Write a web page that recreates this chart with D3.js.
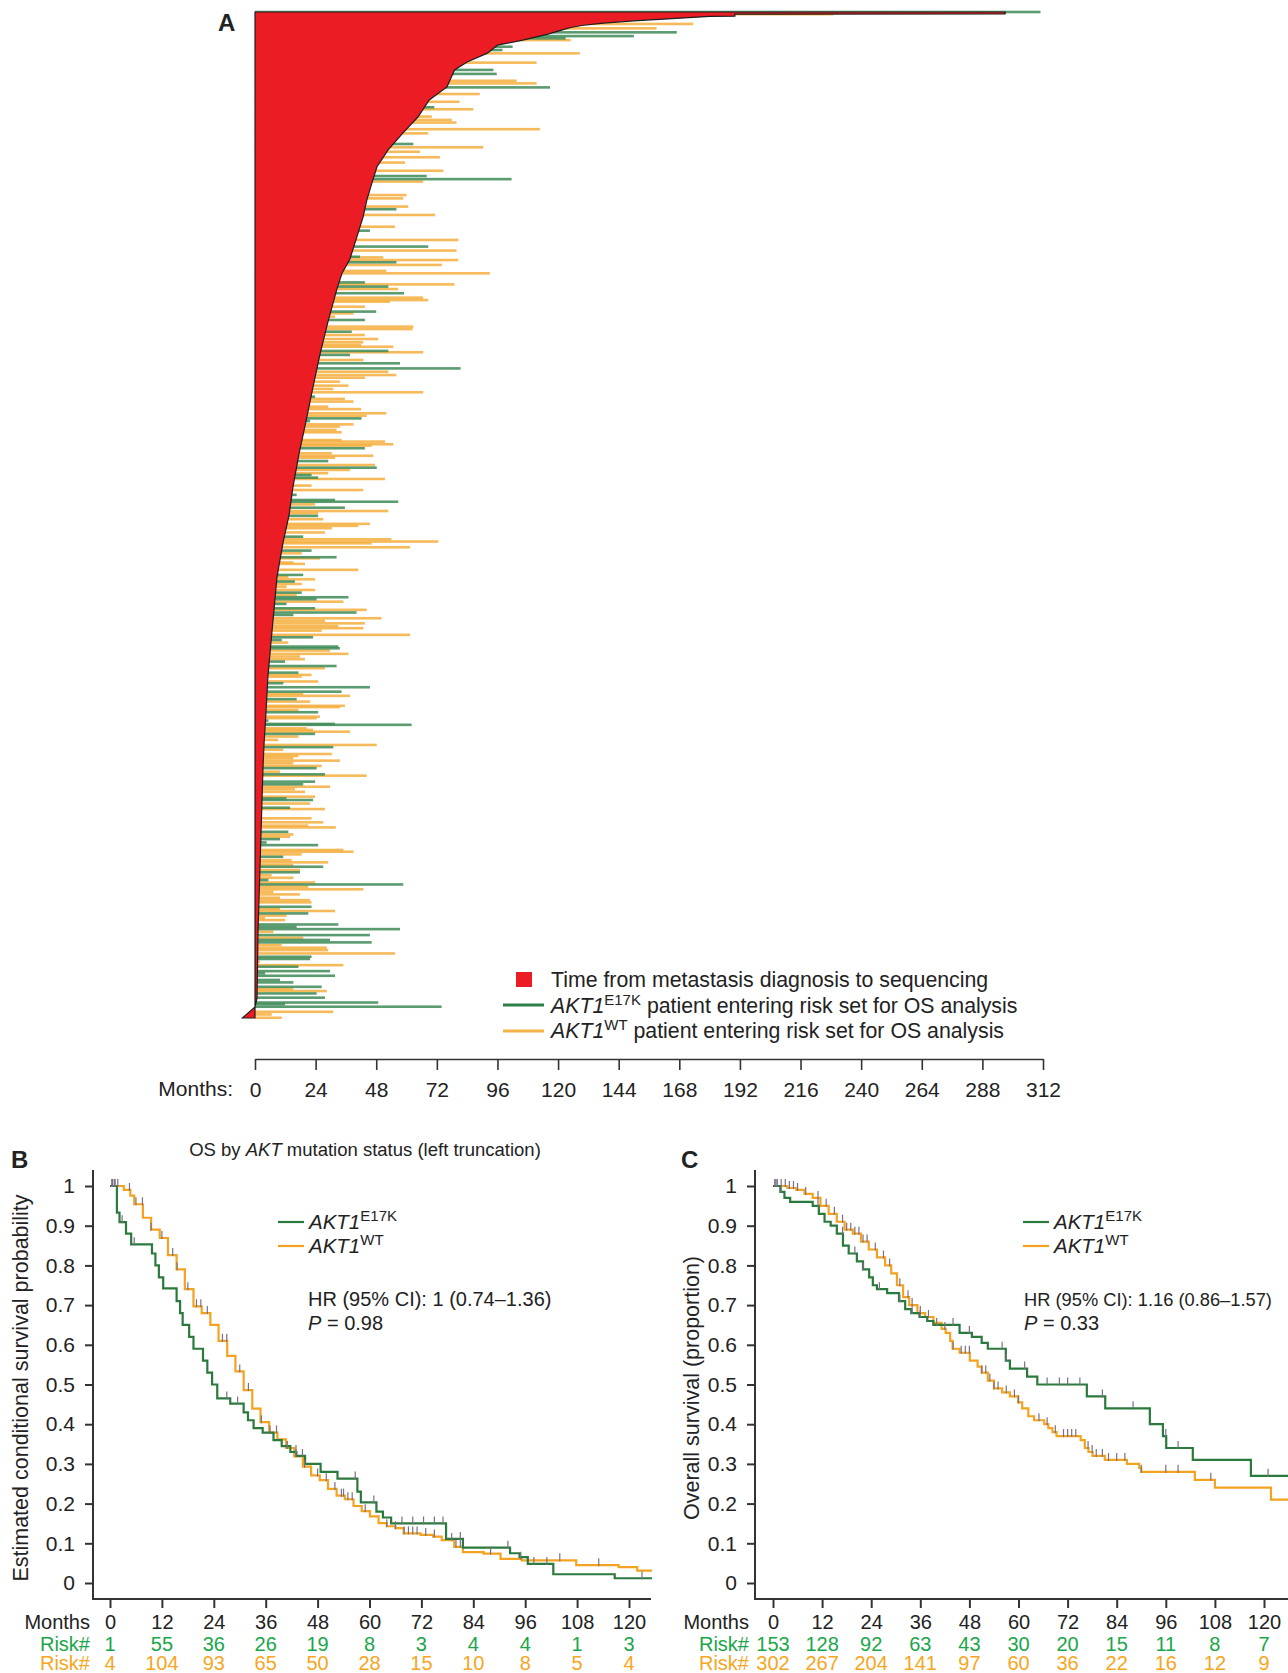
<!DOCTYPE html>
<html>
<head>
<meta charset="utf-8">
<script src="https://cdn.jsdelivr.net/npm/d3@7"></script>
<style>
  body { margin: 0; background: #fff; }
  svg { display: block; }
  text { font-family: 'Liberation Sans', Arial, sans-serif; fill: #222; }
</style>
</head>
<body>
<svg id="chart" width="1288" height="1673"></svg>
<script>
// ---------- panel A data ----------
var monthTicksA = [0, 24, 48, 72, 96, 120, 144, 168, 192, 216, 240, 264, 288, 312];

// [patient row, months from metastasis to sequencing] along the red edge
var seqEdge = [[0,297],[0.9,297],[1,190],[1.9,190],[2,180],[3,165],[4,150],[5,138],[6,130],[7,125],[8,122],[10,116],
  [12.7,106],[15,96],[18.6,92],[22.6,84],[26.2,79],[33.9,76],[39.8,69],[47.5,64.5],[54.7,58.6],[62.4,52.7],[70,48.3],
  [77.3,46.3],[85,44.3],[92.7,42.8],[100,40.8],[112,37.5],[118,34.5],[125,32.5],[140,28.9],[155,25.7],[170,22.9],
  [185,20.2],[200,17.4],[215,15],[227.5,13.5],[240,11.1],[255.6,8.7],[270.5,7.5],[285.4,6.3],[300.8,5.1],[315.7,4.4],
  [330.6,3.6],[340.6,3.2],[355.5,2.8],[385.8,2.0],[416,1.2],[446,0.8],[450,0],[455,-5]];

// [patient row, end of follow-up in months]
var e17kBars = [[0,311],[9.2,167],[10.9,150],[11.9,123],[15.7,102],[17.2,98],[26.2,94.4],[28,95.7],[34.1,116.8],[43.1,71],
  [59.7,62.7],[74.2,68],[75.6,101.6],[89.2,56],[98.9,45.5],[106.1,68.6],
  [110.7,41.6],[113.2,56],[122.3,43.5],[124.2,52.8],[127.2,59],[135.5,48],[139.3,43.5],[144.6,38.3],[153.3,52.8],
  [155.1,37.6],[158.9,57.4],[161.2,81.4],[174,23.8],[183.8,42.2],[185,21.8],[197.3,43.5],[203.1,29],[206.1,48.2],
  [209.4,22.4],[210.6,25],[218.4,16.5],[220.7,31.7],[221.5,56.7],[224.2,35.6],
  [227.9,25],[237.3,19.1],[243.6,22.4],[246.6,32.3],[254.6,19.1],[257.6,15.8],[262.6,18.5],[264.7,37],[265.6,24.4],
  [267.7,12.5],[269.7,23.8],[271.6,40.2],[272.7,15.2],[282.8,23],[284,10.6],[287,33],[287.8,33.6],[293.8,11.9],
  [295.8,32.3],[298.8,17.2],[303.6,11.2],[305.4,45.5],[307.4,34.3],[310.8,16.5],[316.7,25],[320.5,5.3],[322,31.7],
  [322.4,62],[326.5,23.8],[332.5,31],[342,24.4],
  [344.8,27.7],[348.1,23.8],[349.3,19.1],[355.7,12.5],[356.4,23],[359.9,13.9],[370.8,13.2],[374.1,9.9],[375.6,4.6],
  [376.8,25],[382.1,11.2],[386.6,27],[389.1,17.8],[392.6,5.3],[394.6,58.7],[404.7,22.4],[407.7,21.1],[412.7,33],
  [413.7,16.5],[414.8,57.4],[417.5,45.5],[419.7,29.7],[420.8,46.2],[427.3,22.4],[428.3,21.8],[431.8,17.2],[433.8,29.7],
  [434.8,4],[435.9,31.7],[437.8,9.9],[438.9,15.2],[440.9,26.4],[443.9,24.4],[445.8,27.7],[448,48.8],[448.8,11.9],[449.9,73.9]];

var wtBars = [[1,229],[5.4,173.5],[7.4,159],[12.7,125],[18.7,128.6],[22.9,111.5],[31.1,103.6],[32.3,111.5],[37.1,89],
  [40.6,81],[44,86.4],[47.3,70],[48.8,77.9],[50,79.8],[53,112.8],[54.9,68.6],[61.2,90.4],[63.2,65.3],[65.7,73.2],
  [68.1,59.4],[71.8,74.6],[76.7,66.6],[82.8,60],[84.3,58.7],[88,60.7],[91.8,71.3],[97.1,55.4],[103.1,80.5],[107.9,79.8],
  [111,50.8],[112.2,80.5],
  [114.4,74],[117.1,52],[118.2,93],[123.2,79],[125.3,56.7],[129.2,66.6],[130.3,68.6],[131,53.4],[133.3,43.5],[136.3,39],
  [137.8,31.7],[142.3,62.7],[143.4,62.4],[146.1,43.5],[147.9,48.8],[149.4,42.9],[150.6,42],[151.4,54.8],[153.9,66.6],
  [157.4,42.9],[162.7,52.8],[164.2,56],[165.4,43.5],[167.2,33.6],[169,37],[170.5,31],[172,66.6],[175,35.6],[176.2,39],
  [178.5,29],[179.6,42],[181.5,52],[182.6,44.2],[186.5,39],[187.5,33.6],[189,32.3],[190.1,34.3],[193.6,34.3],[194.3,51.5],
  [195.5,54.8],[196.1,46.2],[199.6,30.4],[200.7,46.8],[201.6,31.7],[204.9,47.5],[207.1,37.6],[208.6,29],[211.2,51.5],
  [214.2,22.4],[216.2,42.9],[222.7,23.8],[225.7,52.8],[226.7,25],
  [229.4,27],[231.5,45.5],[232.4,40.9],[233.5,30.4],[235.4,27.7],[238.5,54],[239.5,72.6],[240.3,46.2],[242.1,61.4],
  [244.8,18.5],[247.1,25.7],[249,15.2],[249.6,19.8],[252.3,40.9],[255.4,13.2],[256.6,23.8],[258.7,18.5],[259.9,12.5],
  [261.4,23.8],[263.6,16.5],[266.7,35],[270.4,44.2],[274.2,50.1],[275.3,27.7],[276.5,43.5],[277.7,33],[278.7,42.9],
  [279.8,26.4],[281.7,61.4],[285.2,13.2],[288.8,29.7],[290.3,37],[291.5,17.8],[292.7,19.8],[296.8,27.7],[299.8,22.4],
  [300.6,18.5],[302.8,25],[308.4,19.1],[309.3,37.6],[311.9,21.8],[313.8,35.6],[314.4,33.6],[315.7,17.2],[318.7,25.7],
  [319.4,24.4],[324,20.5],[324.7,23],[325.5,37.6],[327.7,17.2],[329.2,9.2],[331.5,48.2],[333.7,11.2],[335.6,30.4],
  [336.5,17.2],[337.5,15.2],[338.6,33.6],[339.8,15.2],[341,26.4],
  [343.6,9.9],[345.4,44.2],[350.4,29.7],[351.5,15.8],[352.7,19.8],[354.9,23.8],[358,21.8],[360.5,27.7],[364.7,22.4],
  [366.5,27],[368,21.1],[368.8,32],[372,15.2],[373,13.9],[379,35],[379.8,39],[381,18.5],[383.6,14.5],[384.6,29],
  [385.8,15.2],[388.1,17.8],[390.4,6.6],[391.6,15.2],[393.7,23.8],[395.6,21.1],[396.8,42.9],[397.9,7.3],[399.1,17.8],
  [400.6,9.9],[401.7,21.8],[402.7,22.4],[405.7,9.9],[406.6,31.7],[408.7,12.5],[409.9,4],[410.7,11.9],[416,7.3],
  [418.7,19.1],[422,10.6],[423.2,28.4],[424.3,29],[425.8,55.4],[429.6,2],[431.1,35],[441.9,15.2],[442.8,28.4],
  [452.2,31],[453.4,6.6],[454.9,10.6]];

// ---------- panels B and C data ----------
var kmMonths = [0, 12, 24, 36, 48, 60, 72, 84, 96, 108, 120];
var survTicks = [0, 0.1, 0.2, 0.3, 0.4, 0.5, 0.6, 0.7, 0.8, 0.9, 1];

// [month, survival] steps
var bE17K = [[0,1],[1.6,0.933],[2.2,0.909],[3.7,0.88],[4.9,0.853],[9.7,0.83],[10.5,0.8],[11.3,0.77],[12.3,0.742],
  [15.4,0.71],[16.2,0.68],[16.8,0.65],[18.3,0.62],[19.3,0.59],[21.5,0.56],[22.5,0.53],[23.6,0.5],[24.8,0.465],
  [27.8,0.452],[30.9,0.43],[31.9,0.41],[33.2,0.39],[35.3,0.379],[37.8,0.36],[39.7,0.345],[41.7,0.33],[43.1,0.32],
  [45.1,0.3],[48.7,0.28],[52.6,0.263],[57.2,0.23],[58,0.203],[61.6,0.18],[63.1,0.165],[65,0.15],[77.7,0.111],
  [81.6,0.089],[92.5,0.075],[94.7,0.065],[96.6,0.048],[102.5,0.022],[116.7,0.012],[125.3,0.012]];
var bWT = [[0,1],[3.2,0.99],[4.7,0.976],[5.6,0.954],[7.6,0.92],[9.5,0.89],[11.5,0.869],[13.4,0.826],[15.4,0.79],
  [17.3,0.74],[19.3,0.697],[21.2,0.68],[23.2,0.65],[25.1,0.61],[27.1,0.572],[29,0.533],[30.9,0.486],[32.9,0.439],
  [34.8,0.405],[36.8,0.379],[38.7,0.362],[40.7,0.34],[42.6,0.319],[44.6,0.293],[46.5,0.271],[48.5,0.259],[50.4,0.237],
  [52.4,0.22],[54.3,0.211],[56.3,0.194],[58.2,0.181],[60.1,0.168],[62.1,0.151],[64,0.143],[66,0.138],[67.9,0.125],
  [71.8,0.121],[74.7,0.117],[76.7,0.108],[79.6,0.091],[81.6,0.078],[86.4,0.074],[90.3,0.061],[95.2,0.057],
  [107.8,0.045],[117.6,0.04],[121.9,0.031],[125.3,0.031]];
var cE17K = [[0,1],[1.8,0.985],[2.8,0.97],[4.2,0.96],[9.7,0.95],[11.2,0.93],[12.6,0.91],[14.1,0.9],[15.6,0.88],
  [17.1,0.85],[18.5,0.83],[20.5,0.81],[22,0.79],[23.5,0.77],[24.4,0.75],[25.4,0.74],[27.9,0.73],[30.8,0.71],
  [32.3,0.69],[33.8,0.68],[35.8,0.67],[37.7,0.66],[39.2,0.65],[45.6,0.63],[48.6,0.62],[51,0.605],[52.5,0.59],
  [56.9,0.56],[57.9,0.54],[62.1,0.52],[64.6,0.5],[76.7,0.47],[81.2,0.44],[92.1,0.4],[95.3,0.37],[96.1,0.34],
  [102.6,0.31],[116.8,0.27],[126,0.27]];
var cWT = [[0,1],[3.5,0.995],[5.7,0.99],[7.7,0.98],[9.7,0.97],[11.6,0.95],[13.6,0.93],[15.6,0.91],[17.5,0.89],
  [19.5,0.88],[21.5,0.86],[23.4,0.84],[25.4,0.82],[27.4,0.8],[28.9,0.78],[30.3,0.75],[31.8,0.72],[33.3,0.7],
  [35.3,0.68],[37.2,0.67],[39.2,0.655],[41.2,0.64],[42.2,0.63],[43.3,0.61],[43.9,0.59],[45.6,0.58],[48.1,0.56],
  [50,0.545],[51,0.53],[52.5,0.51],[54,0.49],[56,0.48],[57.9,0.47],[59.9,0.455],[60.9,0.44],[62.4,0.42],[63.8,0.41],
  [66.3,0.4],[67.3,0.39],[68.3,0.38],[69.3,0.37],[75.2,0.36],[76.2,0.34],[77.1,0.33],[78.1,0.32],[81.1,0.31],
  [86.5,0.3],[89.5,0.29],[90,0.28],[103.1,0.26],[108,0.24],[121.7,0.21],[126,0.21]];

// censored months
var bCensE17K = [0.6, 1.2, 2.8, 5.6, 27, 29.5, 43, 44.5, 56.7, 61, 67.5, 70, 72.5, 75, 77, 81, 92, 98, 101, 123];
var bCensWT = [0.4, 1, 1.8, 4.5, 6, 7.5, 9.5, 12, 14.5, 15.5, 18, 20, 21, 22.5, 26, 27, 30, 32, 35, 37, 38.5, 41, 43,
  45, 48, 50, 52, 53.5, 54, 55, 56, 59, 64, 66, 68, 69, 70, 71, 73, 75, 79, 80, 81, 88, 95, 104, 113];
var cCensE17K = [0.5, 1, 2, 11, 17, 20, 22, 26, 31, 34, 36, 40, 44, 48, 56, 57, 61.5, 67, 70, 72, 75, 80.5, 88, 96, 99, 121];
var cCensWT = [0.5, 1, 2, 3, 4, 5, 6, 8, 11, 13, 15, 17, 18, 19, 20, 21, 22, 23, 25, 27, 28.5, 31, 33, 34, 36, 38, 42,
  44, 46, 47, 48, 51, 52, 53, 54, 55, 57, 59, 60, 65, 67, 69, 71, 72, 73, 74, 77, 78, 79, 80.5, 82, 84, 86, 90, 96, 99, 107];

var riskB_E17K = [1, 55, 36, 26, 19, 8, 3, 4, 4, 1, 3];
var riskB_WT = [4, 104, 93, 65, 50, 28, 15, 10, 8, 5, 4];
var riskC_E17K = [153, 128, 92, 63, 43, 30, 20, 15, 11, 8, 7];
var riskC_WT = [302, 267, 204, 141, 97, 60, 36, 22, 16, 12, 9];

var GREEN = "#2b7a3d", ORANGE = "#f4a321", RISK_GREEN = "#1aa64a", RISK_ORANGE = "#f6a623", RED = "#ec1c24";

var svg = d3.select("#chart");

// ================= Panel A =================
var xA = d3.scaleLinear().domain([0, 312]).range([255, 1043]);
var yA = d3.scaleLinear().domain([0, 455]).range([12, 1018]);
var gA = svg.append("g");

gA.selectAll("rect.wt").data(wtBars).join("rect").attr("class", "wt")
  .attr("x", xA(0)).attr("y", d => yA(d[0]) - 1.3)
  .attr("width", d => xA(d[1]) - xA(0)).attr("height", 2.6)
  .attr("fill", "#f5ae3d").attr("opacity", 0.85);
gA.selectAll("rect.mut").data(e17kBars).join("rect").attr("class", "mut")
  .attr("x", xA(0)).attr("y", d => yA(d[0]) - 1.3)
  .attr("width", d => xA(d[1]) - xA(0)).attr("height", 2.6)
  .attr("fill", "#3d8a56").attr("opacity", 0.85);

var seqArea = d3.area().y(d => yA(d[0])).x0(xA(0)).x1(d => xA(d[1]));
gA.append("path").datum(seqEdge).attr("d", seqArea)
  .attr("fill", RED).attr("stroke", "#1e1e1e").attr("stroke-width", 1.2);

var axA = gA.append("g").attr("transform", "translate(0,1059)")
  .call(d3.axisBottom(xA).tickValues(monthTicksA).tickSize(11).tickSizeOuter(0).tickPadding(12));
axA.selectAll("path, line").attr("stroke", "#333").attr("stroke-width", 1.6);
axA.selectAll("text").attr("font-size", 21).attr("fill", "#222")
  .style("font-family", "'Liberation Sans', Arial, sans-serif");
gA.append("text").attr("x", 233).attr("y", 1096).attr("text-anchor", "end")
  .attr("font-size", 21).text("Months:");

gA.append("text").attr("x", 218).attr("y", 31).attr("font-size", 24).attr("font-weight", "bold").text("A");

// legend A
gA.append("rect").attr("x", 516).attr("y", 972).attr("width", 16).attr("height", 15).attr("fill", RED);
gA.append("text").attr("x", 551).attr("y", 987).attr("font-size", 21.3)
  .text("Time from metastasis diagnosis to sequencing");
var legA = [["E17K", "#2e7f4a", 1005, 1013], ["WT", "#f5b347", 1031, 1038]];
legA.forEach(function (l) {
  gA.append("line").attr("x1", 503).attr("x2", 544).attr("y1", l[2]).attr("y2", l[2])
    .attr("stroke", l[1]).attr("stroke-width", 3);
  var t = gA.append("text").attr("x", 551).attr("y", l[3]).attr("font-size", 21.3);
  t.append("tspan").attr("font-style", "italic").text("AKT1");
  t.append("tspan").attr("font-size", 15).attr("dy", -8).text(l[0]);
  t.append("tspan").attr("dy", 8).text(" patient entering risk set for OS analysis");
});

// ================= Panels B and C =================
function survAt(steps, t) {
  var i = d3.bisector(d => d[0]).right(steps, t) - 1;
  return steps[Math.max(0, i)][1];
}

function drawKM(cfg) {
  var g = svg.append("g");
  var x = d3.scaleLinear().domain([0, 120]).range([cfg.x0, cfg.x120]);
  var y = d3.scaleLinear().domain([0, 1]).range([1583, 1186]);

  g.append("path").attr("d", "M" + cfg.axisX + "," + y(1.04) + "V1599H" + cfg.right)
    .attr("fill", "none").attr("stroke", "#333").attr("stroke-width", 2);

  var ya = g.append("g").attr("transform", "translate(" + cfg.axisX + ",0)")
    .call(d3.axisLeft(y).tickValues(survTicks).tickSize(8).tickPadding(10)
      .tickFormat(d => (d === 0 || d === 1) ? String(d) : d.toFixed(1)));
  ya.select(".domain").remove();
  ya.selectAll("text").attr("font-size", 21);

  var xa = g.append("g").attr("transform", "translate(0,1599)")
    .call(d3.axisBottom(x).tickValues(kmMonths).tickSize(9).tickPadding(7));
  xa.select(".domain").remove();
  xa.selectAll("text").attr("font-size", 20);
  [ya, xa].forEach(function (a) {
    a.selectAll("line").attr("stroke", "#333").attr("stroke-width", 2);
    a.selectAll("text").attr("fill", "#222").style("font-family", "'Liberation Sans', Arial, sans-serif");
  });

  var line = d3.line().curve(d3.curveStepAfter).x(d => x(d[0])).y(d => y(d[1]));
  g.append("path").datum(cfg.wt).attr("d", line).attr("fill", "none")
    .attr("stroke", ORANGE).attr("stroke-width", 2.2);
  g.append("path").datum(cfg.e17k).attr("d", line).attr("fill", "none")
    .attr("stroke", GREEN).attr("stroke-width", 2.2);

  var cens = cfg.cenW.map(t => [t, survAt(cfg.wt, t)])
    .concat(cfg.cenE.map(t => [t, survAt(cfg.e17k, t)]));
  g.selectAll("line.cens").data(cens).join("line").attr("class", "cens")
    .attr("x1", d => x(d[0])).attr("x2", d => x(d[0]))
    .attr("y1", d => y(d[1]) - 7).attr("y2", d => y(d[1]) + 1)
    .attr("stroke", "#7b6f85").attr("stroke-width", 1.2);

  // risk table
  g.append("text").attr("x", cfg.labelEnd).attr("y", 1629).attr("text-anchor", "end")
    .attr("font-size", 20).text("Months");
  [[cfg.riskE, RISK_GREEN, 1651], [cfg.riskW, RISK_ORANGE, 1670]].forEach(function (r) {
    g.append("text").attr("x", cfg.labelEnd).attr("y", r[2]).attr("text-anchor", "end")
      .attr("font-size", 20).style("fill", r[1]).text("Risk#");
    g.selectAll(null).data(r[0]).join("text")
      .attr("x", (d, i) => x(kmMonths[i])).attr("y", r[2]).attr("text-anchor", "middle")
      .attr("font-size", 20).style("fill", r[1]).text(d => d);
  });

  // y label
  g.append("text").attr("transform", "translate(" + cfg.ylabX + ",1388) rotate(-90)")
    .attr("text-anchor", "middle").attr("dy", "0.35em").attr("font-size", 21.5).text(cfg.ylab);

  // legend
  [[GREEN, 1222, 1229, "E17K"], [ORANGE, 1246, 1253, "WT"]].forEach(function (l) {
    g.append("line").attr("x1", cfg.legX).attr("x2", cfg.legX + 26).attr("y1", l[1]).attr("y2", l[1])
      .attr("stroke", l[0]).attr("stroke-width", 2.2);
    var t = g.append("text").attr("x", cfg.legX + 31).attr("y", l[2]).attr("font-size", 20.5);
    t.append("tspan").attr("font-style", "italic").text("AKT1");
    t.append("tspan").attr("font-size", 15).attr("dy", -8).text(l[3]);
  });
  g.append("text").attr("x", cfg.hrX).attr("y", 1306).attr("font-size", cfg.hrSize).text(cfg.hr);
  var p = g.append("text").attr("x", cfg.hrX).attr("y", 1330).attr("font-size", 20);
  p.append("tspan").attr("font-style", "italic").text("P");
  p.append("tspan").text(" = " + cfg.p);

  g.append("text").attr("x", cfg.tagX).attr("y", 1168).attr("font-size", 24)
    .attr("font-weight", "bold").text(cfg.tag);
  return g;
}

var gB = drawKM({ tag: "B", tagX: 11, axisX: 93, x0: 110, x120: 629, right: 651,
  e17k: bE17K, wt: bWT, cenE: bCensE17K, cenW: bCensWT, riskE: riskB_E17K, riskW: riskB_WT,
  labelEnd: 90, ylabX: 20, ylab: "Estimated conditional survival probability",
  legX: 278, hrX: 308, hrSize: 20, hr: "HR (95% CI): 1 (0.74\u20131.36)", p: "0.98" });

var title = gB.append("text").attr("x", 365).attr("y", 1156).attr("text-anchor", "middle").attr("font-size", 18.5);
title.append("tspan").text("OS by ");
title.append("tspan").attr("font-style", "italic").text("AKT");
title.append("tspan").text(" mutation status (left truncation)");

drawKM({ tag: "C", tagX: 681, axisX: 755, x0: 773, x120: 1264, right: 1288,
  e17k: cE17K, wt: cWT, cenE: cCensE17K, cenW: cCensWT, riskE: riskC_E17K, riskW: riskC_WT,
  labelEnd: 749, ylabX: 691, ylab: "Overall survival (proportion)",
  legX: 1023, hrX: 1024, hrSize: 18.3, hr: "HR (95% CI): 1.16 (0.86\u20131.57)", p: "0.33" });
</script>
</body>
</html>
